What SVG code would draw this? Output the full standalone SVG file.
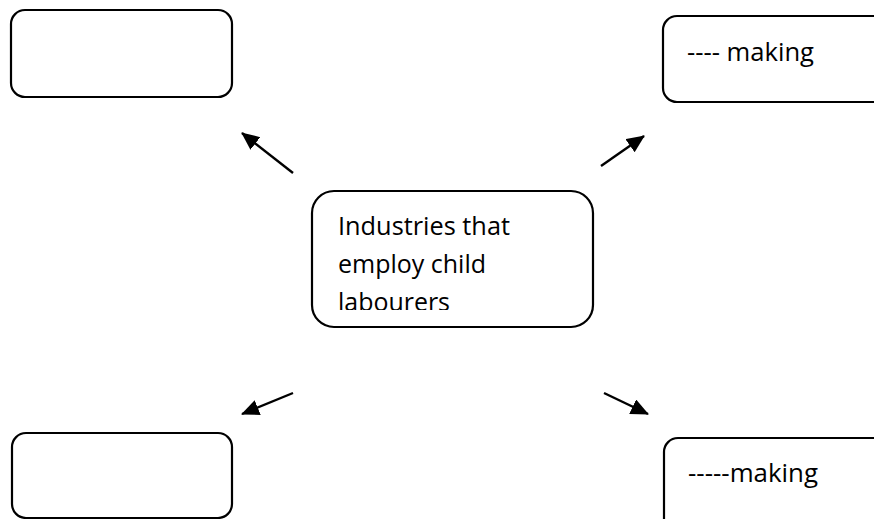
<svg xmlns="http://www.w3.org/2000/svg" width="874" height="519" viewBox="0 0 874 519">
<style>
.box{fill:#fff;stroke:#000;stroke-width:2.2}
.t{font-family:"Open Sans","Noto Sans","Liberation Sans",sans-serif;font-size:26px;fill:#000}
.c{stroke:#000;stroke-width:2.4;fill:none}
</style>
<defs>
<marker id="ah" markerUnits="userSpaceOnUse" markerWidth="20" markerHeight="18" refX="17" refY="8" orient="auto">
<path d="M0,0 L18,8 L0,16 Z" fill="#000"/>
</marker>
<clipPath id="cc"><rect x="312" y="191" width="282" height="119"/></clipPath>
</defs>
<rect width="874" height="519" fill="#fff"/>
<g id="node-top-left"><rect class="box" x="11" y="10" width="221" height="87" rx="14"/></g>
<g id="node-top-right"><rect class="box" x="663" y="16" width="230" height="86" rx="14"/>
<text class="t" x="687" y="61" textLength="127" lengthAdjust="spacingAndGlyphs">---- making</text></g>
<g id="node-bottom-left"><rect class="box" x="12" y="433" width="220" height="85" rx="14"/></g>
<g id="node-bottom-right"><rect class="box" x="664" y="438" width="230" height="100" rx="14"/>
<text class="t" x="688" y="482" textLength="130" lengthAdjust="spacingAndGlyphs">-----making</text></g>
<g id="node-center"><rect class="box" x="312" y="191" width="281" height="136" rx="22"/>
<g clip-path="url(#cc)">
<text class="t" x="338" y="235" textLength="172" lengthAdjust="spacingAndGlyphs">Industries that</text>
<text class="t" x="338" y="273" textLength="148" lengthAdjust="spacingAndGlyphs">employ child</text>
<text class="t" x="338" y="311" textLength="112" lengthAdjust="spacingAndGlyphs">labourers</text>
</g></g>
<g id="connectors">
<line class="c" x1="293" y1="173" x2="242" y2="133" marker-end="url(#ah)"/>
<line class="c" x1="601" y1="166" x2="644" y2="136" marker-end="url(#ah)"/>
<line class="c" x1="293" y1="393" x2="242" y2="414" marker-end="url(#ah)"/>
<line class="c" x1="604" y1="393" x2="648" y2="414" marker-end="url(#ah)"/>
</g>
</svg>
